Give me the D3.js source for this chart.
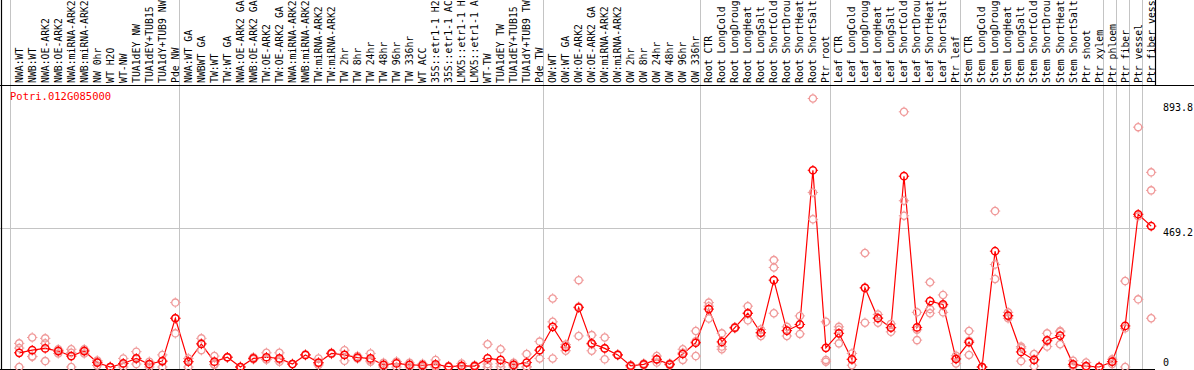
<!DOCTYPE html>
<html>
<head>
<meta charset="utf-8">
<script src="https://cdn.jsdelivr.net/npm/d3@7"></script>
<style>
  body { margin: 0; background: #ffffff; }
  svg { display: block; }
</style>
</head>
<body>
<div id="chart"></div>
<script>
/* Sample labels, one per column (the header only has room for 14 characters) */
const labels = [
  "NWA:WT", "NWB:WT", "NWA:OE-ARK2", "NWB:OE-ARK2", "NWA:miRNA-ARK2", "NWB:miRNA-ARK2",
  "NW 0hr", "WT H2O", "WT-NW", "TUA1dEY NW", "TUA1dEY+TUB15", "TUA1dY+TUB9 NW", "Pde NW",
  "NWA:WT GA", "NWBWT GA", "TW:WT", "TW:WT GA", "NWA:OE-ARK2 GA", "NWB:OE-ARK2 GA",
  "TW:OE-ARK2", "TW:OE-ARK2 GA", "NWA:miRNA-ARK2", "NWB:miRNA-ARK2", "TW:miRNA-ARK2",
  "TW:miRNA-ARK2", "TW 2hr", "TW 8hr", "TW 24hr", "TW 48hr", "TW 96hr", "TW 336hr",
  "WT ACC", "35S::etr1-1 H2", "35S::etr1-1 AC", "LMX5::etr1-1 H", "LMX5::etr1-1 A",
  "WT-TW", "TUA1dEY TW", "TUA1dEY+TUB15", "TUA1dY+TUB9 TW", "Pde TW",
  "OW:WT", "OW:WT GA", "OW:OE-ARK2", "OW:OE-ARK2 GA", "OW:miRNA-ARK2", "OW:miRNA-ARK2",
  "OW 2hr", "OW 8hr", "OW 24hr", "OW 48hr", "OW 96hr", "OW 336hr",
  "Root CTR", "Root LongCold", "Root LongDroug", "Root LongHeat", "Root LongSalt",
  "Root ShortCold", "Root ShortDrou", "Root ShortHeat", "Root ShortSalt", "Ptr root",
  "Leaf CTR", "Leaf LongCold", "Leaf LongDroug", "Leaf LongHeat", "Leaf LongSalt",
  "Leaf ShortCold", "Leaf ShortDrou", "Leaf ShortHeat", "Leaf ShortSalt", "Ptr leaf",
  "Stem CTR", "Stem LongCold", "Stem LongDroug", "Stem LongHeat", "Stem LongSalt",
  "Stem ShortCold", "Stem ShortDrou", "Stem ShortHeat", "Stem ShortSalt", "Ptr shoot",
  "Ptr xylem", "Ptr phloem", "Ptr fiber", "Ptr vessel", "Ptr fiber vess"
];

/* Mean expression per sample */
const means = [
  48, 57, 63, 54, 37, 54, 15, 0, 12, 29, 10, 20, 165, 18, 78, 18, 33, 0, 29, 33, 29, 10,
  41, 15, 46, 41, 32, 29, 7, 12, 7, 6, 9, 1, 4, 3, 29, 24, 7, 15, 57, 136, 67, 201, 80,
  63, 41, 4, 9, 26, 9, 44, 82, 196, 85, 133, 182, 116, 294, 123, 144, 666, 65, 114, 26, 268, 165, 133,
  646, 134, 223, 212, 27, 84, 0, 392, 174, 51, 24, 90, 106, 9, 3, 0, 18, 139, 517, 477
];

/* Replicates */
const rep1 = [
  80, 100, 97, 60, 60, 60, 18, 0, 29, 52, 18, 41, 218, 29, 97, 37, 33, 0, 26, 48, 48, 10,
  41, 29, 44, 57, 37, 46, 0, 18, 0, 0, 24, 0, 0, 0, 77, 60, 0, 44, 86, 232, 70, 294, 108,
  100, 40, 0, 12, 37, 12, 60, 122, 218, 114, 133, 206, 116, 362, 136, 173, 909, 153, 136, 46, 386, 178, 119,
  864, 185, 287, 244, 38, 122, 0, 528, 185, 69, 44, 114, 119, 21, 15, 0, 26, 291, 812, 659
];
const rep2 = [
  0, 35, 80, 46, 0, 46, 5, 0, 0, 10, 8, 0, 114, 0, 57, 8, 33, 0, 33, 26, 25, 10,
  40, 7, 48, 21, 29, 18, 7, 0, 7, 7, 0, 0, 12, 3, 0, 0, 7, 0, 29, 29, 55, 105, 55,
  26, 42, 6, 9, 26, 9, 24, 37, 206, 69, 135, 182, 105, 337, 105, 112, 591, 24, 80, 26, 268, 150, 146,
  563, 91, 196, 207, 12, 41, 0, 347, 165, 20, 3, 69, 77, 3, 0, 0, 10, 131, 510, 598
];
const rep3 = [
  64, 36, 20, 56, 48, 56, 22, 0, 12, 27, 0, 19, 165, 18, 80, 9, 33, 0, 29, 25, 18, 10,
  42, 12, 46, 41, 30, 23, 14, 18, 14, 11, 3, 3, 0, 6, 10, 12, 14, 1, 57, 153, 76, 204, 77,
  63, 41, 6, 6, 15, 6, 48, 87, 164, 60, 131, 158, 127, 182, 123, 144, 500, 18, 126, 6, 150, 167, 134,
  512, 126, 182, 185, 30, 89, 0, 298, 172, 64, 25, 87, 122, 3, 0, 0, 18, 0, 229, 165
];

/* Column indices where a gray separator is drawn */
const groupBreaks = [0, 13, 41, 53, 63, 73, 84, 85, 86, 87];

const yTicks = [0, 469.2, 893.8];
const geneName = "Potri.012G085000";

const width = 1194;
const height = 370;
const plotLeft = 10;
const plotRight = 1155;
const headerBottom = 85;
const plotBottom = 369;

const meanColor = "#ff0000";
const repColor = "#f09a9a";
const gridColor = "#c4c4c4";
const font = "'DejaVu Sans Mono', monospace";

const svg = d3.select("#chart")
  .append("svg")
  .attr("width", width)
  .attr("height", height);

const x = d3.scaleBand()
  .domain(d3.range(labels.length))
  .range([plotLeft, plotRight])
  .paddingInner(0)
  .paddingOuter(0);

const y = d3.scaleLinear()
  .domain([0, 893.8])
  .range([367, 103]);

const px = i => x(i) + 9.2;

/* grid lines */
svg.append("g")
  .selectAll("line")
  .data(groupBreaks)
  .join("line")
    .attr("x1", k => Math.round(x(k)) + 0.5)
    .attr("x2", k => Math.round(x(k)) + 0.5)
    .attr("y1", 0)
    .attr("y2", plotBottom)
    .attr("stroke", gridColor)
    .attr("stroke-width", 1);

svg.append("line")
  .attr("x1", 0)
  .attr("x2", plotRight)
  .attr("y1", Math.round(y(469.2)) + 0.5)
  .attr("y2", Math.round(y(469.2)) + 0.5)
  .attr("stroke", gridColor)
  .attr("stroke-width", 1);

/* frame */
svg.append("line")
  .attr("x1", 0).attr("x2", width)
  .attr("y1", headerBottom + 0.5).attr("y2", headerBottom + 0.5)
  .attr("stroke", "#000").attr("stroke-width", 1.2);

svg.append("line")
  .attr("x1", 0).attr("x2", plotRight)
  .attr("y1", plotBottom + 0.5).attr("y2", plotBottom + 0.5)
  .attr("stroke", "#000").attr("stroke-width", 1.2);

svg.append("line")
  .attr("x1", 1.5).attr("x2", 1.5)
  .attr("y1", 0).attr("y2", height)
  .attr("stroke", "#000").attr("stroke-width", 1.2);

svg.append("line")
  .attr("x1", plotRight + 0.5).attr("x2", plotRight + 0.5)
  .attr("y1", 0).attr("y2", headerBottom)
  .attr("stroke", "#000").attr("stroke-width", 1.2);

/* sample labels, rotated */
svg.append("g")
  .selectAll("text")
  .data(labels)
  .join("text")
    .attr("transform", (d, i) => `translate(${px(i) + 3.4},${headerBottom - 2}) rotate(-90)`)
    .attr("font-family", font)
    .attr("font-size", 9.8)
    .attr("fill", "#000")
    .text(d => d);

svg.append("text")
  .attr("x", plotLeft)
  .attr("y", 100)
  .attr("font-family", font)
  .attr("font-size", 10.5)
  .attr("fill", meanColor)
  .text(geneName);

/* y labels on the right */
svg.append("g")
  .selectAll("text")
  .data(yTicks)
  .join("text")
    .attr("x", 1163)
    .attr("y", d => d === 0 ? y(d) - 1 : y(d) + 8)
    .attr("font-family", font)
    .attr("font-size", 10)
    .attr("fill", "#000")
    .text(d => d);

/* marker: ring with four small ticks */
function marker(g, color, sw) {
  g.append("circle")
    .attr("r", 3.6)
    .attr("fill", "none")
    .attr("stroke", color)
    .attr("stroke-width", sw);
  g.append("path")
    .attr("d", "M0,-5.2V-3.8M0,3.8V5.2M-5.2,0H-3.8M3.8,0H5.2")
    .attr("stroke", color)
    .attr("stroke-width", 1);
}

const line = d3.line()
  .x((d, i) => px(i))
  .y(d => y(d));

svg.append("path")
  .datum(means)
  .attr("fill", "none")
  .attr("stroke", meanColor)
  .attr("stroke-width", 1.2)
  .attr("d", line);

const reps = [];
[rep1, rep2, rep3].forEach(r => r.forEach((v, i) => reps.push({ i: i, v: v })));

svg.append("g")
  .selectAll("g")
  .data(reps)
  .join("g")
    .attr("transform", d => `translate(${px(d.i)},${y(d.v)})`)
    .each(function() { marker(d3.select(this), repColor, 1.3); });

svg.append("g")
  .selectAll("g")
  .data(means)
  .join("g")
    .attr("transform", (d, i) => `translate(${px(i)},${y(d)})`)
    .each(function() { marker(d3.select(this), meanColor, 1.5); });
</script>
</body>
</html>
